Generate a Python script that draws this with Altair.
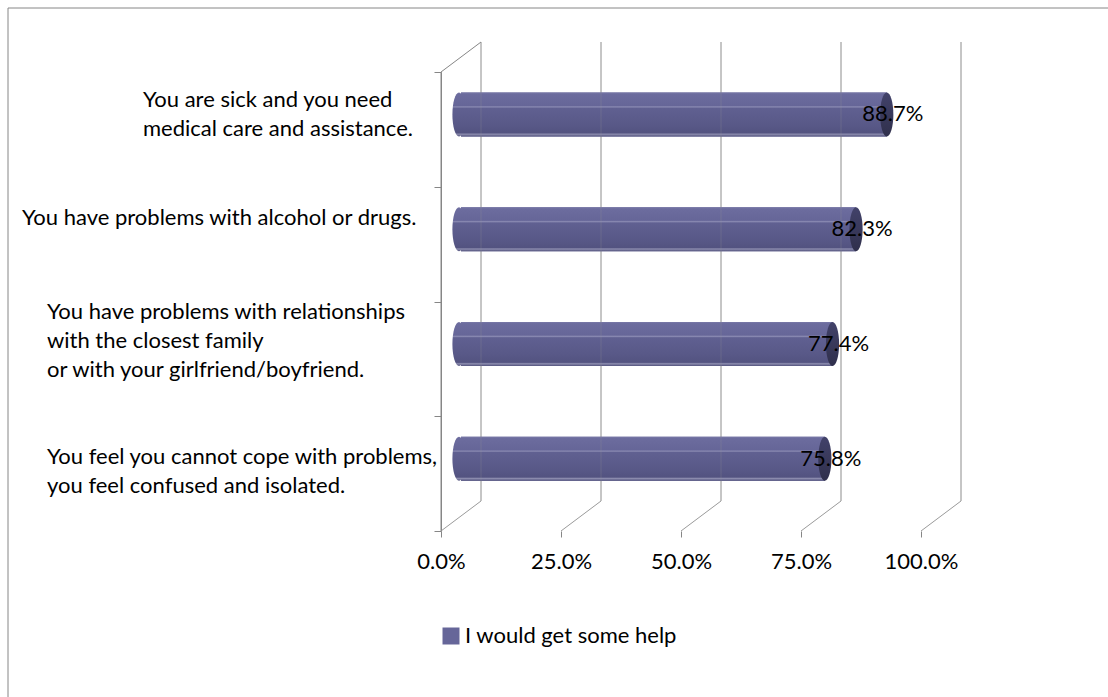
import altair as alt
import pandas as pd

# ---------------- data ----------------
categories = [
    "You are sick and you need|medical care and assistance.",
    "You have problems with alcohol or drugs.",
    "You have problems with relationships|with the closest family|or with your  girlfriend/boyfriend.",
    "You feel you cannot cope with problems,|you feel confused and isolated.",
]
values = [0.887, 0.823, 0.774, 0.758]
series_name = "I would get some help"
tick_values = [0.0, 0.25, 0.5, 0.75, 1.0]

df = pd.DataFrame({"category": categories, "value": values,
                   "series": [series_name] * len(values)})
ticks_df = pd.DataFrame({"t": tick_values})

# ---------------- layout / style ----------------
W, H = 480, 459
DX, DY = 40, -30      # back wall offset (3-D depth)
MX, MY = 20, -15      # mid-depth offset where the cylinders sit
FONT = "Lato"
AX = "#868686"
GRID = "#9a9a9a"
BAR_H = 44

xscale = alt.Scale(domain=[0, 1], nice=False, zero=True)
yscale = alt.Scale(domain=categories, paddingInner=0, paddingOuter=0)

def is_(word):
    return f"indexof(datum.category, '{word}') >= 0"

# per-label placement of the category text blocks (style, relative to axis)
lab_dx = f"{is_('sick')} ? -298 : {is_('alcohol')} ? -419 : -394"
lab_dy = (f"{is_('sick')} ? -29 : {is_('alcohol')} ? -26 : "
          f"{is_('relationships')} ? -47 : -17")

base = alt.Chart(df)
tbase = alt.Chart(ticks_df)

ellipse = "M0,-1 A0.3,1 0 1,1 0,1 A0.3,1 0 1,1 0,-1 Z"

body_grad = {
    "gradient": "linear", "x1": 0, "y1": 0, "x2": 0, "y2": 1,
    "stops": [
        {"offset": 0.0, "color": "#7a7aa8"},
        {"offset": 0.04, "color": "#6c6c9e"},
        {"offset": 0.30, "color": "#666698"},
        {"offset": 0.33, "color": "#8a8ab2"},
        {"offset": 0.36, "color": "#606091"},
        {"offset": 0.75, "color": "#585887"},
        {"offset": 0.92, "color": "#535380"},
        {"offset": 0.95, "color": "#8c8cae"},
        {"offset": 1.0, "color": "#55557f"},
    ],
}
cap_grad = {
    "gradient": "linear", "x1": 0, "y1": 0, "x2": 0, "y2": 1,
    "stops": [
        {"offset": 0.0, "color": "#42426a"},
        {"offset": 1.0, "color": "#30304c"},
    ],
}

X_AXIS = alt.Axis(values=tick_values, format=".1%", domain=False, grid=False,
                  tickSize=6, tickColor=AX, labelFont=FONT, labelFontSize=22,
                  labelColor="black", labelPadding=14, labelFlush=False,
                  labelOverlap=False, title=None)
Y_AXIS = alt.Axis(title=None, domain=True, domainColor=AX, domainWidth=1,
                  tickColor=AX, tickSize=7, tickBand="extent", labels=False,
                  grid=False)

def xq(field):
    return alt.X(field, type="quantitative", scale=xscale, axis=X_AXIS)

def yc():
    return alt.Y("category:N", scale=yscale, axis=Y_AXIS)

# bars: solid base (gives the legend)
bar_base = base.mark_bar(size=BAR_H, xOffset=MX, x2Offset=MX, yOffset=MY, y2Offset=MY).encode(
    x=xq("value"),
    y=yc(),
    color=alt.Color("series:N", scale=alt.Scale(range=["#666699"]),
                    legend=alt.Legend(orient="none", legendX=-1, legendY=553, title=None,
                                      symbolType="square", symbolSize=289,
                                      symbolStrokeWidth=0, labelFont=FONT,
                                      labelFontSize=22, labelColor="black",
                                      labelLimit=400, padding=0, labelOffset=3)),
)

# outer chart-area border
frame = tbase.mark_rect(fillOpacity=0, stroke=AX, strokeWidth=1).encode(
    x=alt.value(-433), x2=alt.value(W + 250), y=alt.value(-64), y2=alt.value(H + 250)
).transform_filter("datum.t == 0")

# back-wall vertical gridlines
grid_back = tbase.mark_rule(color=GRID, strokeWidth=1, xOffset=DX, yOffset=DY, y2Offset=DY).encode(
    x=xq("t"),
    y=alt.value(0), y2=alt.value(H),
)
# floor diagonals
floor = tbase.mark_rule(color=GRID, strokeWidth=1, x2Offset=DX, y2Offset=DY).encode(
    x=xq("t"), x2=alt.X2("t"),
    y=alt.value(H), y2=alt.value(H),
)
# left wall top diagonal
wall_top = tbase.mark_rule(color=AX, strokeWidth=1, x2Offset=DX, y2Offset=DY).encode(
    x=xq("t"), x2=alt.X2("t"),
    y=alt.value(0), y2=alt.value(0),
).transform_filter("datum.t == 0")
# front-left vertical edge (category axis line)
wall_front = tbase.mark_rule(color=AX, strokeWidth=1).encode(
    x=xq("t"),
    y=alt.value(0), y2=alt.value(H),
).transform_filter("datum.t == 0")

bar_shade = base.mark_bar(size=BAR_H, xOffset=MX, x2Offset=MX, yOffset=MY, y2Offset=MY,
                          fill=body_grad).encode(
    x=xq("value"),
    y=yc(),
)

left_cap = base.mark_point(shape=ellipse, size=BAR_H * BAR_H, filled=True, fill=body_grad,
                           opacity=1, strokeWidth=0, xOffset=MX - 2, yOffset=MY).encode(
    x=xq("zero"),
    y=yc(),
).transform_calculate(zero="0")

# gridlines faintly visible through the cylinders
grid_front = tbase.mark_rule(color=GRID, strokeWidth=1, opacity=0.25, xOffset=DX,
                             yOffset=DY, y2Offset=DY).encode(
    x=xq("t"),
    y=alt.value(0), y2=alt.value(H),
)

right_cap = base.mark_point(shape=ellipse, size=BAR_H * BAR_H, filled=True, fill=cap_grad,
                            opacity=1, strokeWidth=0, xOffset=MX, yOffset=MY).encode(
    x=xq("value"),
    y=yc(),
)

labels = base.mark_text(font=FONT, fontSize=22, color="black", align="center",
                        baseline="middle", xOffset=MX + 6, yOffset=MY).encode(
    x=xq("value"),
    y=yc(),
    text=alt.Text("value:Q", format=".1%"),
)

# category labels (multi-line, left aligned blocks left of the axis)
cat_text = base.mark_text(font=FONT, fontSize=22, color="black", align="left",
                          baseline="middle", lineHeight=29,
                          dx=alt.expr(lab_dx), dy=alt.expr(lab_dy)).encode(
    x=alt.value(0),
    y=yc(),
    text=alt.Text("lines:N"),
).transform_calculate(lines="split(datum.category, '|')")

chart = alt.layer(
    frame, grid_back, floor, wall_top, wall_front, bar_base, bar_shade, left_cap,
    grid_front, right_cap, labels, cat_text,
).properties(
    width=W, height=H,
    background="white",
    autosize=alt.AutoSizeParams(type="none"),
    padding={"left": 441, "top": 72, "right": 187, "bottom": 166},
).configure_view(strokeWidth=0)

chart.save("out.html", embed_options={"renderer": "svg", "actions": False})
